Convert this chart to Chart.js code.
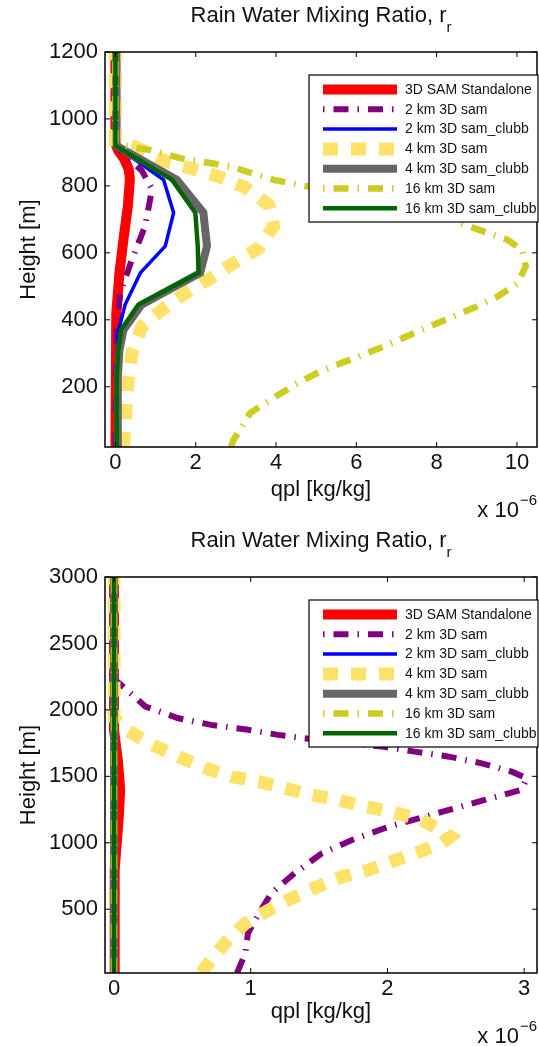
<!DOCTYPE html>
<html lang="en">
  <head>
    <meta charset="UTF-8" />
    <title>Rain Water Mixing Ratio</title>
    <style>
      body {
        margin: 0;
        background: #fff;
      }
      .panel {
        position: absolute;
        left: 0;
        width: 539px;
        height: 523px;
      }
      #panel0 { top: 0; }
      #panel1 { top: 523px; }
    </style>
    <script src="https://cdn.jsdelivr.net/npm/chart.js@4"></script>
  </head>
  <body>
    <div id="panel0" class="panel"><canvas id="chart0" width="539" height="523"></canvas></div>
    <div id="panel1" class="panel"><canvas id="chart1" width="539" height="523"></canvas></div>

    <script>
      // qpl values are in units of 1e-6 kg/kg, heights in m
      const seriesNames = [
        "3D SAM Standalone",
        "2 km 3D sam",
        "2 km 3D sam_clubb",
        "4 km 3D sam",
        "4 km 3D sam_clubb",
        "16 km 3D sam",
        "16 km 3D sam_clubb",
      ];
      const plotTitle = "Rain Water Mixing Ratio, r";
      const titleSub = "r";
      const xLabel = "qpl [kg/kg]";
      const yLabel = "Height [m]";

      // ---- upper panel ----
      const topXTicks = [0, 2, 4, 6, 8, 10];
      const topYTicks = [200, 400, 600, 800, 1000, 1200];

      const topSamZ = [20, 420, 540, 640, 740, 820, 850, 880, 905, 925, 1200];
      const topSamQ = [0, 0.02, 0.1, 0.2, 0.31, 0.36, 0.33, 0.22, 0.07, 0, 0];

      const top2kmZ = [20, 380, 480, 580, 680, 790, 845, 880, 920, 1200];
      const top2kmQ = [0, 0.03, 0.12, 0.41, 0.74, 0.91, 0.66, 0.35, 0, 0];

      const top2kmClubbZ = [20, 300, 370, 445, 540, 620, 720, 818, 920, 1200];
      const top2kmClubbQ = [0.02, 0.03, 0.08, 0.24, 0.62, 1.24, 1.45, 1.2, 0, 0];

      const top4kmZ = [20, 52, 131, 216, 301, 380, 430, 480, 524, 569, 614, 679, 743, 798, 828, 853, 872, 917, 935, 1200];
      const top4kmQ = [0.21, 0.22, 0.26, 0.31, 0.41, 0.66, 1.16, 1.74, 2.36, 2.94, 3.57, 3.94, 3.82, 3.19, 2.57, 1.86, 1.28, 0.49, 0, 0];

      const top4kmClubbZ = [20, 230, 310, 370, 445, 540, 620, 720, 818, 920, 1200];
      const top4kmClubbQ = [0.05, 0.06, 0.1, 0.2, 0.65, 2.11, 2.28, 2.19, 1.53, 0.02, 0.02];

      const top16kmZ = [20, 41, 122, 161, 201, 246, 281, 320, 360, 400, 440, 469, 509, 559, 609, 639, 678, 720, 760, 798, 818, 858, 883, 907, 917, 927, 1200];
      const top16kmQ = [2.88, 2.94, 3.36, 3.86, 4.4, 5.1, 5.85, 6.68, 7.43, 8.22, 9.01, 9.51, 10.01, 10.22, 10.13, 9.76, 8.84, 8.0, 6.6, 4.8, 3.94, 2.86, 1.61, 0.87, 0.37, 0, 0];

      const top16kmClubbZ = [20, 230, 310, 370, 445, 540, 620, 720, 818, 920, 1200];
      const top16kmClubbQ = [0.02, 0.03, 0.07, 0.14, 0.57, 2.07, 2.05, 1.99, 1.41, 0, 0];

      // ---- lower panel ----
      const botXTicks = [0, 1, 2, 3];
      const botYTicks = [500, 1000, 1500, 2000, 2500, 3000];

      const botSamZ = [20, 800, 1000, 1200, 1400, 1600, 1850, 3000];
      const botSamQ = [0, 0.005, 0.02, 0.035, 0.045, 0.03, 0, 0];

      const bot2kmZ = [20, 168, 319, 469, 620, 770, 921, 1021, 1121, 1247, 1322, 1398, 1486, 1535, 1598, 1648, 1686, 1724, 1774, 1812, 1850, 1887, 1937, 2025, 2190, 2230, 3000];
      const bot2kmQ = [0.9, 0.96, 0.98, 1.06, 1.15, 1.32, 1.52, 1.74, 2.01, 2.45, 2.71, 2.98, 3.02, 2.91, 2.69, 2.45, 2.2, 1.96, 1.49, 1.2, 0.98, 0.71, 0.47, 0.23, 0.05, 0, 0];

      const bot2kmClubbZ = [20, 3000];
      const bot2kmClubbQ = [0, 0];

      const bot4kmZ = [20, 67, 243, 393, 493, 582, 670, 745, 795, 870, 946, 1000, 1046, 1100, 1172, 1234, 1272, 1322, 1360, 1410, 1460, 1498, 1561, 1648, 1737, 1850, 1940, 3000];
      const bot4kmQ = [0.64, 0.67, 0.81, 0.96, 1.13, 1.3, 1.49, 1.67, 1.86, 2.06, 2.27, 2.4, 2.46, 2.38, 2.25, 2.03, 1.84, 1.64, 1.45, 1.25, 1.06, 0.86, 0.67, 0.47, 0.28, 0.09, 0, 0];

      const bot4kmClubbZ = [20, 3000];
      const bot4kmClubbQ = [0, 0];

      const bot16kmZ = [20, 3000];
      const bot16kmQ = [0, 0];

      const bot16kmClubbZ = [20, 3000];
      const bot16kmClubbQ = [0, 0];

      // line looks, in legend order (later ones drawn on top)
      const lineStyles = [
        { color: "#ff0000", width: 10, dash: [] },
        { color: "#800080", width: 6, dash: [15, 9, 1.5, 9] },
        { color: "#0000ff", width: 3.5, dash: [] },
        { color: "#ffe26a", width: 13, dash: [15, 13] },
        { color: "#666666", width: 8, dash: [] },
        { color: "#cccc22", width: 6.5, dash: [15, 9, 1.5, 9] },
        { color: "#006400", width: 4.5, dash: [] },
      ];

      const fontFamily = "'Liberation Sans', Arial, Helvetica, sans-serif";
      const textColor = "#111";

      function buildDatasets(zs, qs) {
        return seriesNames.map((name, i) => ({
          label: name,
          data: zs[i].map((z, k) => ({ x: qs[i][k], y: z })),
          showLine: true,
          borderColor: lineStyles[i].color,
          backgroundColor: lineStyles[i].color,
          borderWidth: lineStyles[i].width,
          borderDash: lineStyles[i].dash,
          borderCapStyle: "butt",
          pointRadius: 0,
          pointHoverRadius: 0,
          tension: 0,
          order: -i,
          clip: 0,
        }));
      }

      // Matlab-like frame: box, inward ticks, legend box, title, x10^-6
      const matlabFrame = {
        id: "matlabFrame",
        afterDraw(chart) {
          const ctx = chart.ctx;
          const a = chart.chartArea;
          const xs = chart.scales.x;
          const ys = chart.scales.y;
          ctx.save();

          ctx.strokeStyle = "#000";
          ctx.lineWidth = 1.5;
          ctx.setLineDash([]);
          ctx.strokeRect(a.left, a.top, a.right - a.left, a.bottom - a.top);

          ctx.lineWidth = 1;
          const tl = 5;
          ctx.beginPath();
          xs.ticks.forEach((t) => {
            const px = xs.getPixelForValue(t.value);
            ctx.moveTo(px, a.bottom);
            ctx.lineTo(px, a.bottom - tl);
            ctx.moveTo(px, a.top);
            ctx.lineTo(px, a.top + tl);
          });
          ys.ticks.forEach((t) => {
            const py = ys.getPixelForValue(t.value);
            ctx.moveTo(a.left, py);
            ctx.lineTo(a.left + tl, py);
            ctx.moveTo(a.right, py);
            ctx.lineTo(a.right - tl, py);
          });
          ctx.stroke();

          // legend
          const lx = a.left + 204;
          const ly = a.top + 23;
          const lw = a.right + 1 - lx;
          const lh = 147;
          ctx.fillStyle = "#fff";
          ctx.fillRect(lx, ly, lw, lh);
          ctx.strokeStyle = "#000";
          ctx.lineWidth = 1.2;
          ctx.strokeRect(lx, ly, lw, lh);
          ctx.font = "14px " + fontFamily;
          ctx.textBaseline = "middle";
          ctx.textAlign = "left";
          chart.data.datasets.forEach((ds, i) => {
            const y = ly + 14.5 + i * 19.8;
            ctx.strokeStyle = ds.borderColor;
            ctx.lineWidth = ds.borderWidth;
            ctx.lineCap = "butt";
            ctx.setLineDash(ds.borderDash);
            ctx.lineDashOffset = ds.borderDash.length === 4 ? 24 : 0;
            ctx.beginPath();
            ctx.moveTo(lx + 14, y);
            ctx.lineTo(lx + 88, y);
            ctx.stroke();
            ctx.setLineDash([]);
            ctx.fillStyle = textColor;
            ctx.fillText(ds.label, lx + 96, y + 0.5);
          });

          // title with subscript
          const cx = (a.left + a.right) / 2;
          ctx.font = "22px " + fontFamily;
          const mainW = ctx.measureText(plotTitle).width;
          ctx.font = "15px " + fontFamily;
          const subW = ctx.measureText(titleSub).width;
          const tx = cx - (mainW + subW) / 2;
          ctx.fillStyle = textColor;
          ctx.font = "22px " + fontFamily;
          ctx.fillText(plotTitle, tx, a.top - 36);
          ctx.font = "15px " + fontFamily;
          ctx.fillText(titleSub, tx + mainW, a.top - 24);

          // x 10^-6
          ctx.font = "15px " + fontFamily;
          const expW = ctx.measureText("\u22126").width;
          ctx.textAlign = "right";
          ctx.fillText("\u22126", a.right, a.bottom + 54);
          ctx.font = "22px " + fontFamily;
          ctx.fillText("x 10", a.right - expW - 1, a.bottom + 64);

          ctx.restore();
        },
      };

      function setupChart(canvasId, datasets, xr, yr, xTicks, yTicks, padTop, xAxisHeight, xTitlePad) {
        const font = { family: fontFamily, size: 22 };
        return new Chart(document.getElementById(canvasId), {
          type: "scatter",
          data: { datasets: datasets },
          options: {
            responsive: false,
            animation: false,
            events: [],
            layout: { padding: { left: 0, right: 2, top: padTop, bottom: 0 } },
            plugins: {
              legend: { display: false },
              tooltip: { enabled: false },
            },
            scales: {
              x: {
                type: "linear",
                min: xr[0],
                max: xr[1],
                grid: { display: false, drawTicks: false },
                border: { display: false },
                afterBuildTicks: (s) => {
                  s.ticks = xTicks.map((v) => ({ value: v }));
                },
                afterFit: (s) => {
                  s.height = xAxisHeight;
                },
                ticks: {
                  font: font,
                  color: textColor,
                  padding: 3,
                  maxRotation: 0,
                  autoSkip: false,
                  callback: (v) => String(v),
                },
                title: {
                  display: true,
                  text: xLabel,
                  font: font,
                  color: textColor,
                  padding: { top: 0, bottom: xTitlePad },
                },
              },
              y: {
                type: "linear",
                min: yr[0],
                max: yr[1],
                grid: { display: false, drawTicks: false },
                border: { display: false },
                afterBuildTicks: (s) => {
                  s.ticks = yTicks.map((v) => ({ value: v }));
                },
                afterFit: (s) => {
                  s.width = 105;
                },
                ticks: {
                  font: font,
                  color: textColor,
                  padding: 7,
                  autoSkip: false,
                  callback: (v) => String(v),
                },
                title: {
                  display: true,
                  text: yLabel,
                  font: font,
                  color: textColor,
                  padding: { top: 16, bottom: 0 },
                },
              },
            },
          },
          plugins: [matlabFrame],
        });
      }

      const topChart = setupChart(
        "chart0",
        buildDatasets(
          [topSamZ, top2kmZ, top2kmClubbZ, top4kmZ, top4kmClubbZ, top16kmZ, top16kmClubbZ],
          [topSamQ, top2kmQ, top2kmClubbQ, top4kmQ, top4kmClubbQ, top16kmQ, top16kmClubbQ]
        ),
        [-0.26, 10.5],
        [20, 1200],
        topXTicks,
        topYTicks,
        52,
        76,
        20
      );

      const bottomChart = setupChart(
        "chart1",
        buildDatasets(
          [botSamZ, bot2kmZ, bot2kmClubbZ, bot4kmZ, bot4kmClubbZ, bot16kmZ, bot16kmClubbZ],
          [botSamQ, bot2kmQ, bot2kmClubbQ, bot4kmQ, bot4kmClubbQ, bot16kmQ, bot16kmClubbQ]
        ),
        [-0.066, 3.094],
        [20, 3000],
        botXTicks,
        botYTicks,
        54,
        73,
        21
      );
    </script>
  </body>
</html>
